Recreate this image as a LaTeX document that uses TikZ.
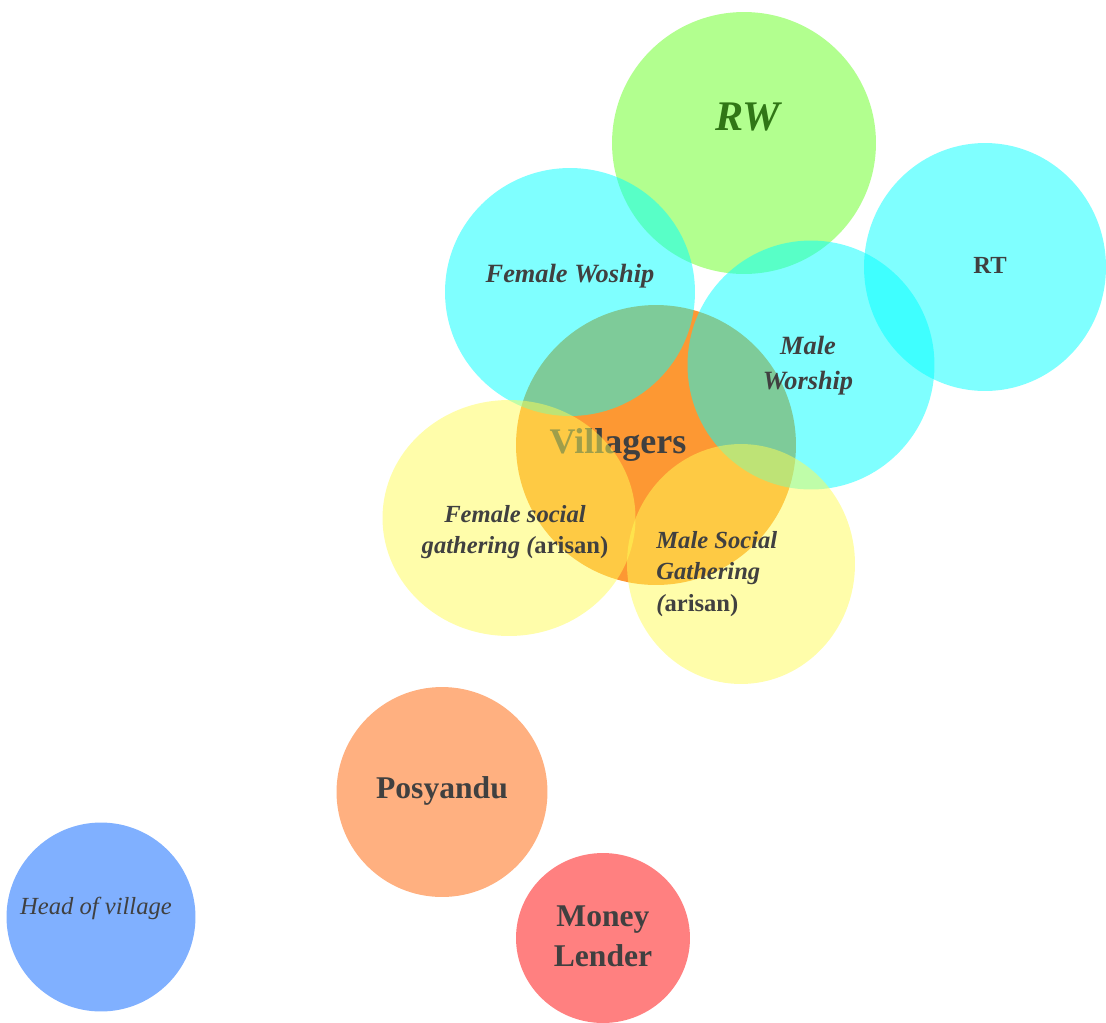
\documentclass[tikz,border=0pt]{standalone}
\usepackage{fontspec}
\setmainfont{Liberation Serif}
\usetikzlibrary{shapes.geometric}

\definecolor{textgray}{RGB}{64,64,64}
\definecolor{rwgreen}{RGB}{101,255,31}
\definecolor{rwtext}{RGB}{48,118,22}
\definecolor{worcyan}{RGB}{0,255,255}
\definecolor{villorange}{RGB}{253,152,51}
\definecolor{socyellow}{RGB}{255,252,85}
\definecolor{headblue}{RGB}{128,176,255}
\definecolor{posorange}{RGB}{255,176,128}
\definecolor{moneyred}{RGB}{255,128,128}

\begin{document}
\begin{tikzpicture}[x=0.02cm, y=-0.02cm,
    bubble/.style={ellipse, inner sep=0pt, draw=none},
    lbl/.style={text=textgray, align=center, inner sep=0pt}]
    \useasboundingbox (0,0) rectangle (1106,1022);

    % centre group
    \node[bubble, fill=villorange, minimum width=5.6cm, minimum height=5.6cm] (villagers) at (656,445) {};
    \node[lbl, font=\bfseries\fontsize{20.5}{24}\selectfont] (villagerstxt) at (618,445) {Villagers};
    \node[bubble, fill=rwgreen, fill opacity=.5, minimum width=5.28cm, minimum height=5.24cm] (rw) at (744,143) {};
    \node[bubble, fill=worcyan, fill opacity=.5, minimum width=5cm, minimum height=4.96cm] (femwor) at (570,292) {};
    \node[bubble, fill=worcyan, fill opacity=.5, minimum width=4.94cm, minimum height=4.98cm] (malewor) at (811,365) {};
    \node[bubble, fill=worcyan, fill opacity=.5, minimum width=4.84cm, minimum height=4.96cm] (rt) at (985,267) {};
    \node[bubble, fill=socyellow, fill opacity=.5, minimum width=5.06cm, minimum height=4.72cm] (femsoc) at (509,518) {};
    \node[bubble, fill=socyellow, fill opacity=.5, minimum width=4.56cm, minimum height=4.8cm] (malesoc) at (741,564) {};

    \node[lbl, text=rwtext, font=\bfseries\itshape\fontsize{24}{28}\selectfont] (rwtxt) at (748,117) {RW};
    \node[lbl, font=\bfseries\itshape\fontsize{15}{20}\selectfont] (femwortxt) at (570,276) {Female Woship};
    \node[lbl, font=\bfseries\itshape\fontsize{15}{20}\selectfont] (malewortxt) at (808,366) {Male\\Worship};
    \node[lbl, font=\bfseries\fontsize{14}{17}\selectfont] (rttxt) at (990,265) {RT};
    \node[lbl, font=\bfseries\fontsize{14}{18}\selectfont] (femsoctxt) at (515,532)
        {\itshape Female social\\\itshape gathering (\upshape arisan)};
    \node[lbl, align=left, anchor=west, font=\bfseries\fontsize{14}{18}\selectfont] (malesoctxt) at (656,574)
        {\itshape Male Social\\\itshape Gathering\\\itshape (\upshape arisan)};

    % loose ones
    \node[bubble, fill=posorange, minimum width=4.22cm, minimum height=4.2cm] (posyandu) at (442,792) {};
    \node[lbl, font=\bfseries\fontsize{18}{22}\selectfont] (posyandutxt) at (442,791) {Posyandu};
    \node[bubble, fill=moneyred, minimum width=3.48cm, minimum height=3.4cm] (money) at (603,938) {};
    \node[lbl, font=\bfseries\fontsize{18}{23}\selectfont] (moneytxt) at (603,936) {Money\\Lender};
    \node[bubble, fill=headblue, minimum width=3.78cm, minimum height=3.78cm] (head) at (101,917) {};
    \node[lbl, font=\itshape\fontsize{14}{17}\selectfont] (headtxt) at (96,908) {Head of village};
\end{tikzpicture}
\end{document}
